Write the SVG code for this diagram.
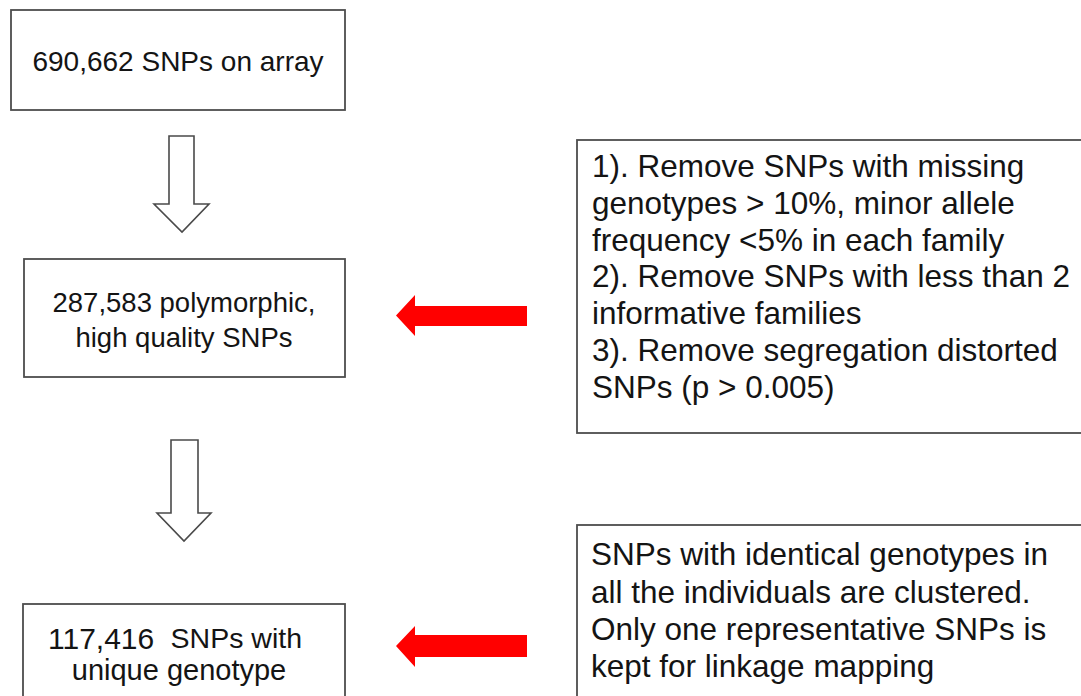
<svg xmlns="http://www.w3.org/2000/svg" width="1081" height="696" viewBox="0 0 1081 696">
<style>
.box{fill:#fff;stroke:#4d4d4d;stroke-width:1.8}
.t{font-family:"Liberation Sans",Arial,sans-serif;fill:#141414}
.c{text-anchor:middle}
.hollow{fill:#fff;stroke:#4a4a4a;stroke-width:1.6;stroke-linejoin:miter}
.red{fill:#ff0000;stroke:none}
</style>
<rect width="1081" height="696" fill="#fff"/>
<g id="connectors">
<polygon class="hollow" points="169,136 194,136 194,204 209,204 182,232 154,204 169,204"/>
<polygon class="hollow" points="171,440 198,440 198,513 211,513 184,541 157,513 171,513"/>
<polygon class="red" points="527,306 415,306 415,295 396,315.5 415,336 415,326 527,326"/>
<polygon class="red" points="527,635 415,635 415,626 396,646 415,667 415,657 527,657"/>
</g>
<g id="node-array">
<rect class="box" x="11" y="10" width="334" height="100"/>
<text class="t c" x="178" y="71" font-size="28">690,662 SNPs on array</text>
</g>
<g id="node-polymorphic">
<rect class="box" x="24" y="259" width="321" height="118"/>
<text class="t c" x="184" y="312" font-size="27.5">287,583 polymorphic,</text>
<text class="t c" x="184" y="347" font-size="27.5">high quality SNPs</text>
</g>
<g id="node-unique">
<rect class="box" x="23" y="604" width="322" height="110"/>
<text class="t" x="48" y="649" font-size="30">117,416</text>
<text class="t" x="302" y="648" font-size="28.5" text-anchor="end">SNPs with</text>
<text class="t c" x="179" y="680" font-size="29">unique genotype</text>
</g>
<g id="node-filters">
<rect class="box" x="577" y="140" width="520" height="293"/>
<text class="t" x="592" font-size="31.5">
<tspan x="592" y="177">1). Remove SNPs with missing</tspan>
<tspan x="592" y="213.8">genotypes &gt; 10%, minor allele</tspan>
<tspan x="592" y="250.6">frequency &lt;5% in each family</tspan>
<tspan x="592" y="287.4">2). Remove SNPs with less than 2</tspan>
<tspan x="592" y="324.2">informative families</tspan>
<tspan x="592" y="361">3). Remove segregation distorted</tspan>
<tspan x="592" y="397.8">SNPs (p &gt; 0.005)</tspan>
</text>
</g>
<g id="node-cluster">
<rect class="box" x="577" y="525" width="520" height="200"/>
<text class="t" x="591" font-size="31.5">
<tspan x="591" y="565">SNPs with identical genotypes in</tspan>
<tspan x="591" y="603">all the individuals are clustered.</tspan>
<tspan x="591" y="640">Only one representative SNPs is</tspan>
<tspan x="591" y="677">kept for linkage mapping</tspan>
</text>
</g>
</svg>
